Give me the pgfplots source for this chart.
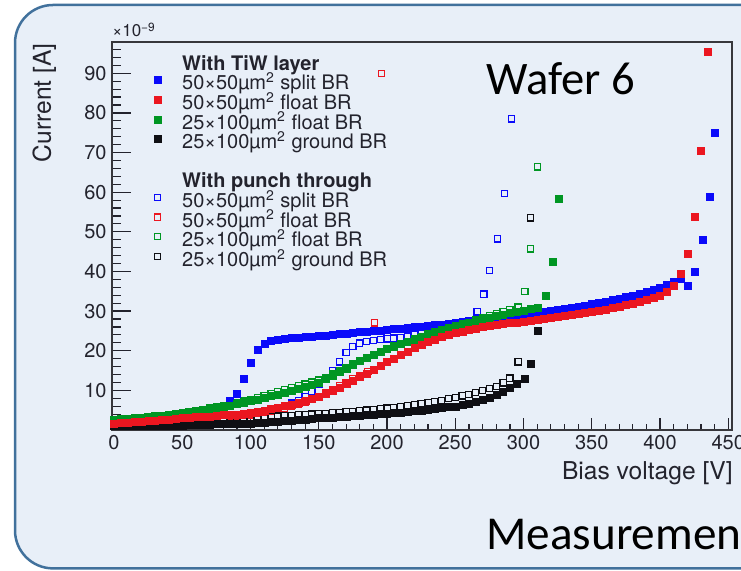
\documentclass[border=0pt]{standalone}
\usepackage{fontspec}
\setmainfont{TeX Gyre Heros}
\newfontfamily\slidefont{Carlito}
\usepackage{pgfplots}
\usepackage{pgfplotstable}
\pgfplotsset{compat=1.18}
\definecolor{slidebg}{RGB}{232,239,248}
\definecolor{slideborder}{RGB}{65,113,156}
\definecolor{rblue}{RGB}{10,10,250}
\definecolor{rred}{RGB}{235,22,32}
\definecolor{rgreen}{RGB}{0,150,35}
\definecolor{rblack}{RGB}{15,15,20}
\definecolor{framec}{RGB}{55,55,60}
\definecolor{textc}{RGB}{35,35,45}

% 50x50 split BR, TiW layer
\pgfplotstableread{
x y
0 1.6
5 1.6
10 1.7
15 1.7
20 1.8
25 1.8
30 1.9
35 2.0
40 2.1
45 2.2
50 2.4
55 2.7
60 3.1
65 3.6
70 4.3
75 5.0
80 5.9
85 7.3
90 9.3
95 13.0
100 17.0
105 20.4
110 21.8
115 22.5
120 22.9
125 23.1
130 23.3
135 23.4
140 23.5
145 23.6
150 23.7
155 23.9
160 24.0
165 24.2
170 24.4
175 24.5
180 24.7
185 24.9
190 25.0
195 25.2
200 25.4
205 25.5
210 25.7
215 25.8
220 26.0
225 26.2
230 26.3
235 26.5
240 26.7
245 26.9
250 27.1
255 27.3
260 27.5
265 27.7
270 27.9
275 28.1
280 28.3
285 28.5
290 28.7
295 28.9
300 29.1
305 29.3
310 29.6
315 29.8
320 30.1
325 30.3
330 30.6
335 30.9
340 31.2
345 31.5
350 31.8
355 32.1
360 32.5
365 32.8
370 33.2
375 33.6
380 34.0
385 34.4
390 34.9
395 35.4
400 36.0
405 36.7
410 37.5
415 38.3
420 36.5
425 40.0
431 48.0
436 59.0
440 75.0
}\bluef
% 50x50 float BR, TiW layer
\pgfplotstableread{
x y
0 1.7
5 1.8
10 1.9
15 2.0
20 2.1
25 2.3
30 2.4
35 2.5
40 2.7
45 2.8
50 3.0
55 3.1
60 3.3
65 3.4
70 3.5
75 3.7
80 3.8
85 3.9
90 4.0
95 4.2
100 4.4
105 4.7
110 5.0
115 5.3
120 5.7
125 6.1
130 6.5
135 6.9
140 7.4
145 7.9
150 8.5
155 9.2
160 10.0
165 10.8
170 11.7
175 12.5
180 13.4
185 14.3
190 15.2
195 16.2
200 17.2
205 18.1
210 19.0
215 19.9
220 20.7
225 21.5
230 22.2
235 22.9
240 23.5
245 24.0
250 24.5
255 24.9
260 25.3
265 25.7
270 26.0
275 26.3
280 26.6
285 26.8
290 27.0
295 27.2
300 27.4
305 27.6
310 27.8
315 28.0
320 28.3
325 28.5
330 28.8
335 29.0
340 29.3
345 29.6
350 29.9
355 30.2
360 30.5
365 30.8
370 31.2
375 31.6
380 32.0
385 32.4
390 32.9
395 33.4
400 34.0
405 35.0
410 36.4
415 39.4
420 44.4
425 53.8
430 70.5
435 95.5
}\redf
% 25x100 float BR, TiW layer
\pgfplotstableread{
x y
0 2.5
5 2.6
10 2.7
15 2.8
20 3.0
25 3.1
30 3.3
35 3.5
40 3.7
45 3.9
50 4.2
55 4.4
60 4.7
65 5.0
70 5.3
75 5.6
80 5.9
85 6.2
90 6.6
95 6.9
100 7.3
105 7.7
110 8.1
115 8.6
120 9.0
125 9.5
130 10.0
135 10.5
140 11.0
145 11.5
150 12.0
155 12.9
160 13.8
165 14.7
170 15.6
175 16.5
180 17.4
185 18.2
190 19.0
195 19.8
200 20.5
205 21.2
210 21.8
215 22.4
220 23.0
225 23.6
230 24.2
235 24.8
240 25.3
245 25.8
250 26.3
255 26.8
260 27.2
265 27.6
270 28.0
275 28.4
280 28.8
285 29.2
290 29.5
295 29.9
300 30.2
305 30.6
310 31.0
316 34.0
321 42.4
326 58.3
}\greenf
% 25x100 ground BR, TiW layer
\pgfplotstableread{
x y
0 1.0
5 1.0
10 1.0
15 1.1
20 1.1
25 1.1
30 1.1
35 1.2
40 1.2
45 1.2
50 1.2
55 1.3
60 1.3
65 1.4
70 1.4
75 1.5
80 1.5
85 1.6
90 1.6
95 1.7
100 1.7
105 1.8
110 1.9
115 2.0
120 2.2
125 2.3
130 2.4
135 2.6
140 2.7
145 2.9
150 3.0
155 3.1
160 3.2
165 3.4
170 3.5
175 3.6
180 3.7
185 3.8
190 4.0
195 4.1
200 4.2
205 4.4
210 4.5
215 4.7
220 4.8
225 5.0
230 5.2
235 5.4
240 5.6
245 5.8
250 6.0
255 6.3
260 6.7
265 7.1
270 7.6
275 8.2
280 8.9
285 9.7
290 10.6
295 11.6
301 12.9
305 16.7
310 25.0
}\blackf
% 50x50 split BR, punch through
\pgfplotstableread{
x y
0 1.3
5 1.3
10 1.4
15 1.4
20 1.5
25 1.5
30 1.6
35 1.7
40 1.8
45 1.9
50 2.0
55 2.1
60 2.2
65 2.4
70 2.6
75 2.8
80 3.0
85 3.3
90 3.5
95 3.8
100 4.1
105 4.4
110 4.7
115 5.1
120 5.6
125 6.2
130 6.8
135 7.5
140 8.4
145 9.8
150 11.5
155 13.2
160 15.0
165 17.2
170 19.5
175 21.0
180 21.9
185 22.3
190 22.6
195 22.8
200 23.0
205 23.2
210 23.4
215 23.7
220 24.0
225 24.3
230 24.6
235 24.9
240 25.3
245 25.7
250 26.1
255 26.8
260 27.6
266 29.8
271 34.3
275 40.2
281 48.2
286 59.6
291 78.5
}\bluep
% 50x50 float BR, punch through
\pgfplotstableread{
x y
0 1.5
5 1.6
10 1.7
15 1.8
20 1.9
25 2.0
30 2.1
35 2.2
40 2.3
45 2.5
50 2.6
55 2.7
60 2.8
65 2.9
70 3.0
75 3.1
80 3.2
85 3.3
90 3.5
95 3.6
100 3.8
105 4.1
110 4.4
115 4.7
120 5.1
125 5.5
130 6.0
135 6.5
140 7.1
145 7.8
150 8.5
155 9.3
160 10.2
165 11.1
170 12.0
175 12.9
180 13.8
186 14.7
191 27.0
196 90.0
}\redp
% 25x100 float BR, punch through
\pgfplotstableread{
x y
0 2.7
5 2.8
10 2.9
15 3.1
20 3.2
25 3.4
30 3.5
35 3.7
40 3.9
45 4.1
50 4.4
55 4.6
60 4.9
65 5.2
70 5.5
75 5.8
80 6.1
85 6.5
90 6.9
95 7.3
100 7.7
105 8.1
110 8.6
115 9.1
120 9.6
125 10.1
130 10.6
135 11.1
140 11.6
145 12.1
150 12.6
155 13.3
160 14.1
165 14.9
170 15.8
175 16.6
180 17.4
185 18.2
190 18.9
195 19.6
200 20.3
205 20.9
210 21.5
215 22.1
220 22.7
225 23.3
230 23.9
235 24.5
240 25.1
245 25.7
250 26.3
255 26.8
260 27.3
265 27.8
270 28.3
275 28.8
280 29.3
285 29.8
290 30.3
296 31.0
301 35.0
305 45.7
310 66.4
}\greenp
% 25x100 ground BR, punch through
\pgfplotstableread{
x y
0 1.5
5 1.6
10 1.7
15 1.7
20 1.8
25 1.9
30 1.9
35 2.0
40 2.1
45 2.1
50 2.2
55 2.3
60 2.3
65 2.4
70 2.5
75 2.6
80 2.7
85 2.8
90 2.9
95 3.0
100 3.1
105 3.2
110 3.3
115 3.4
120 3.5
125 3.6
130 3.7
135 3.8
140 3.9
145 4.0
150 4.1
155 4.2
160 4.3
165 4.4
170 4.6
175 4.7
180 4.8
185 5.0
190 5.1
195 5.3
200 5.5
205 5.7
210 5.9
215 6.1
220 6.4
225 6.6
230 6.9
235 7.2
240 7.5
245 7.9
250 8.2
255 8.6
260 9.0
265 9.4
270 9.9
275 10.4
280 11.0
285 11.9
290 13.1
296 17.2
305 53.5
}\blackp

\pgfplotsset{
  filledmk/.style={only marks, mark=square*, mark size=1.75pt,
    mark options={draw=#1, fill=#1, line width=0.1pt}},
  openmk/.style={only marks, mark=square, mark size=1.55pt,
    mark options={draw=#1, fill=none, line width=0.6pt}},
  common/.style={
    at={(56pt,70.5pt)}, anchor=south west,
    width=310pt, height=194pt, scale only axis,
    xmin=-1.5, xmax=452.7, ymin=0, ymax=97.9,
    axis line style={framec, line width=1pt},
    tick style={textc, line width=0.6pt},
    tick align=inside, tick pos=left,
    /pgf/number format/assume math mode=true,
    scaled ticks=false,
    ticklabel style={font=\fontsize{10}{12}\selectfont, text=textc},
  },
}

\begin{document}
\begin{tikzpicture}
\path[use as bounding box] (0pt,0pt) rectangle (370.5pt,285.5pt);
\clip (0pt,0pt) rectangle (370.5pt,285.5pt);
\fill[white] (0pt,0pt) rectangle (370.5pt,285.5pt);
\draw[slideborder, line width=1.25pt, fill=slidebg, rounded corners=19pt]
  (7.5pt,1.3pt) rectangle (395pt,283pt);

% x ticks (shorter, as in the original)
\begin{axis}[common,
  ytick=\empty,
  xtick={0,50,...,450},
  minor xtick={10,20,...,440},
  major tick length=5.8pt, minor tick length=2.9pt,
  xticklabel style={anchor=north, inner sep=0pt, yshift=-2.6pt},
]
\end{axis}

\begin{axis}[common, name=ax,
  xtick=\empty,
  ytick={10,20,...,90},
  minor ytick={2,4,...,96},
  major tick length=9.3pt, minor tick length=4.65pt,
  yticklabel style={anchor=east, inner sep=0pt, xshift=-2.5pt},
  legend cell align=left,
  legend image code/.code={\draw[#1] plot coordinates {(0pt,2.5pt)};},
  legend style={draw=none, fill=none, inner sep=0pt, outer sep=0pt,
    at={(0.068,0.965)}, anchor=north west,
    font=\fontsize{10}{10}\selectfont, text=textc,
    row sep=0pt, column sep=10.5pt,
    nodes={inner xsep=0pt, inner ysep=0.4pt, text height=7pt, text depth=2pt}},
]
\addplot[openmk=rblue, forget plot] table {\bluep};
\addplot[openmk=rred, forget plot] table {\redp};
\addplot[openmk=rgreen, forget plot] table {\greenp};
\addplot[openmk=rblack, forget plot] table {\blackp};
\addplot[filledmk=rblue, forget plot] table {\bluef};
\addplot[filledmk=rgreen, forget plot] table {\greenf};
\addplot[filledmk=rblack, forget plot] table {\blackf};
\addplot[filledmk=rred, forget plot] table {\redf};

\addlegendimage{empty legend}
\addlegendentry{\textbf{With TiW layer}}
\addlegendimage{filledmk=rblue}
\addlegendentry{50×50µm\textsuperscript{2} split BR}
\addlegendimage{filledmk=rred}
\addlegendentry{50×50µm\textsuperscript{2} float BR}
\addlegendimage{filledmk=rgreen}
\addlegendentry{25×100µm\textsuperscript{2} float BR}
\addlegendimage{filledmk=rblack}
\addlegendentry{25×100µm\textsuperscript{2} ground BR}
\addlegendimage{empty legend}
\addlegendentry{}
\addlegendimage{empty legend}
\addlegendentry{\textbf{With punch through}}
\addlegendimage{openmk=rblue}
\addlegendentry{50×50µm\textsuperscript{2} split BR}
\addlegendimage{openmk=rred}
\addlegendentry{50×50µm\textsuperscript{2} float BR}
\addlegendimage{openmk=rgreen}
\addlegendentry{25×100µm\textsuperscript{2} float BR}
\addlegendimage{openmk=rblack}
\addlegendentry{25×100µm\textsuperscript{2} ground BR}
\end{axis}

\node[anchor=base west, inner sep=0pt, text=textc, font=\fontsize{8.5}{9}\selectfont]
  at ([yshift=2.5pt]ax.north west) {×10\textsuperscript{−9}};
\node[anchor=base east, inner sep=0pt, text=textc, font=\fontsize{12.3}{14}\selectfont]
  at (366.5pt,45.5pt) {Bias voltage [V]};
\node[anchor=base east, rotate=90, inner sep=0pt, text=textc, font=\fontsize{12.3}{14}\selectfont]
  at (25.5pt,264pt) {Current [A]};

\node[anchor=base west, inner sep=0pt, font=\slidefont\fontsize{23.3}{27}\selectfont]
  at (243pt,238pt) {Wafer 6};
\node[anchor=base west, inner sep=0pt, font=\slidefont\fontsize{23.6}{27}\selectfont]
  at (243pt,10.5pt) {Measuremen};
\end{tikzpicture}
\end{document}
